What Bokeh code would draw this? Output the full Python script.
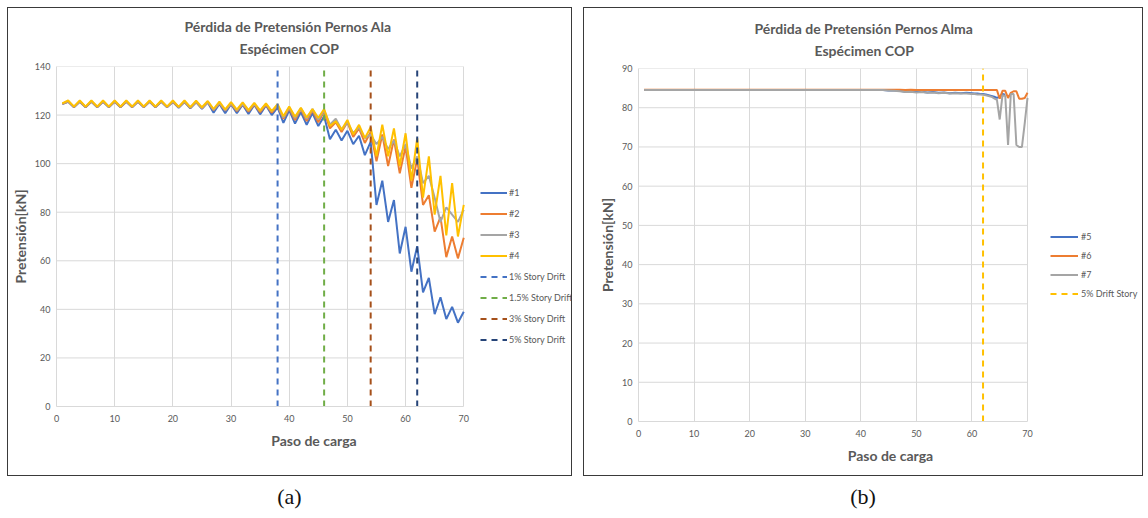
from bokeh.plotting import figure
from bokeh.models import Range1d, Legend, LegendItem, Title, SingleIntervalTicker, Div
from bokeh.layouts import row, column
from bokeh.embed import file_html
from bokeh.resources import INLINE

# ---------------- data: (a) Pernos Ala ----------------
steps_ala = list(range(1, 71))
ala_1 = [124.5, 125.5, 123.2, 125.5, 123.2, 125.5, 123.2, 125.5, 123.2, 125.5,
         123.2, 125.5, 123.2, 125.5, 123.2, 125.5, 123.2, 125.5, 123.2, 125.4,
         123.0, 125.4, 122.8, 125.3, 122.6, 125.2, 121.0, 124.6, 120.8, 124.5,
         120.8, 124.3, 120.5, 124.2, 120.3, 124.0, 120.0, 123.2, 116.8, 122.0,
         116.5, 121.2, 116.0, 120.8, 115.5, 119.5, 110.0, 114.0, 109.5, 113.5,
         108.0, 111.5, 103.5, 109.0, 83.0, 93.0, 76.0, 85.0, 63.0, 74.0,
         55.5, 66.0, 47.0, 53.0, 38.0, 45.0, 36.0, 41.0, 34.5, 39.0]
ala_2 = [124.6, 125.6, 123.3, 125.6, 123.3, 125.6, 123.3, 125.6, 123.3, 125.6,
         123.3, 125.6, 123.3, 125.6, 123.3, 125.6, 123.3, 125.6, 123.3, 125.5,
         123.2, 125.5, 123.0, 125.4, 122.8, 125.3, 122.0, 124.8, 121.8, 124.6,
         121.6, 124.5, 121.4, 124.4, 121.2, 124.2, 121.0, 123.8, 118.5, 122.8,
         118.0, 122.5, 117.5, 122.0, 117.0, 121.5, 114.5, 117.0, 113.0, 117.0,
         111.0, 114.5, 108.5, 113.0, 101.0, 112.0, 99.0, 110.0, 96.0, 107.0,
         90.0, 102.0, 83.0, 87.0, 72.0, 78.0, 61.5, 70.0, 61.0, 69.5]
ala_3 = [124.7, 125.7, 123.4, 125.7, 123.4, 125.7, 123.4, 125.7, 123.4, 125.7,
         123.4, 125.7, 123.4, 125.7, 123.4, 125.7, 123.4, 125.7, 123.4, 125.6,
         123.3, 125.6, 123.1, 125.5, 122.9, 125.4, 122.2, 125.0, 122.0, 124.8,
         121.9, 124.7, 121.8, 124.6, 121.7, 124.5, 121.5, 124.0, 119.0, 123.2,
         118.8, 122.8, 118.5, 122.5, 118.2, 122.0, 116.0, 118.5, 114.0, 117.0,
         112.5, 115.0, 110.5, 112.0, 108.0, 111.0, 106.0, 109.5, 103.0, 108.0,
         98.0, 103.0, 92.0, 95.0, 86.0, 76.0, 82.0, 79.0, 76.0, 81.0]
ala_4 = [124.8, 126.0, 123.5, 126.0, 123.5, 126.0, 123.5, 126.0, 123.5, 126.0,
         123.5, 126.0, 123.5, 126.0, 123.5, 126.0, 123.5, 126.0, 123.5, 126.0,
         123.4, 126.0, 123.3, 125.9, 123.2, 125.8, 122.5, 125.5, 122.3, 125.3,
         122.2, 125.2, 122.0, 125.0, 121.8, 124.8, 121.6, 124.5, 119.5, 123.5,
         119.3, 123.0, 119.0, 122.5, 118.8, 122.5, 115.5, 117.5, 114.0, 118.0,
         112.0, 116.0, 110.5, 115.0, 103.0, 116.0, 103.0, 114.5, 99.0, 112.5,
         93.0, 110.5, 86.0, 103.0, 79.0, 95.0, 70.5, 92.0, 70.0, 83.0]
ala_labels = ["#1", "#2", "#3", "#4"]
drift_steps = [38, 46, 54, 62]
drift_labels = ["1% Story Drift", "1.5% Story Drift", "3% Story Drift", "5% Story Drift"]
ala_ylim = [0, 140]
ala_yticks = [0, 20, 40, 60, 80, 100, 120, 140]

# ---------------- data: (b) Pernos Alma ----------------
steps_alma = [1, 2, 3, 4, 5, 6, 7, 8, 9, 10, 11, 12, 13, 14, 15, 16, 17, 18, 19, 20,
              21, 22, 23, 24, 25, 26, 27, 28, 29, 30, 31, 32, 33, 34, 35, 36, 37, 38, 39, 40,
              41, 42, 43, 44, 45, 46, 47, 48, 49, 50, 51, 52, 53, 54, 55, 56, 57, 58, 59, 60,
              60.5, 61, 61.5, 62, 62.5, 63, 63.5, 64, 64.5, 65,
              65.5, 66, 66.5, 67, 67.5, 68, 68.5, 69, 69.5, 70]
alma_5 = [84.5, 84.5, 84.5, 84.5, 84.5, 84.5, 84.5, 84.5, 84.5, 84.5,
          84.5, 84.5, 84.5, 84.5, 84.5, 84.5, 84.5, 84.5, 84.5, 84.5,
          84.5, 84.5, 84.5, 84.5, 84.5, 84.5, 84.5, 84.5, 84.5, 84.5,
          84.5, 84.5, 84.5, 84.5, 84.5, 84.5, 84.5, 84.5, 84.5, 84.5,
          84.5, 84.5, 84.5, 84.5, 84.4, 84.4, 84.3, 84.1, 84.2, 84.0,
          84.1, 83.9, 84.0, 83.8, 83.9, 83.7, 83.8, 83.7, 83.8, 83.7,
          83.6, 83.6, 83.5, 83.5, 83.4, 83.2, 83.0, 82.8, 82.5, 82.8,
          83.5, 83.3]
alma_6 = [84.6, 84.6, 84.6, 84.6, 84.6, 84.6, 84.6, 84.6, 84.6, 84.6,
          84.6, 84.6, 84.6, 84.6, 84.6, 84.6, 84.6, 84.6, 84.6, 84.6,
          84.6, 84.6, 84.6, 84.6, 84.6, 84.6, 84.6, 84.6, 84.6, 84.6,
          84.6, 84.6, 84.6, 84.6, 84.6, 84.6, 84.6, 84.6, 84.6, 84.6,
          84.6, 84.6, 84.6, 84.6, 84.6, 84.6, 84.6, 84.5, 84.6, 84.5,
          84.5, 84.5, 84.5, 84.5, 84.5, 84.5, 84.5, 84.5, 84.5, 84.5,
          84.5, 84.5, 84.5, 84.5, 84.5, 84.5, 84.5, 84.5, 84.5, 82.3,
          84.3, 84.3, 82.5, 83.8, 84.2, 84.2, 82.3, 82.3, 82.5, 83.8]
alma_7 = [84.5, 84.5, 84.5, 84.5, 84.5, 84.5, 84.5, 84.5, 84.5, 84.5,
          84.5, 84.5, 84.5, 84.5, 84.5, 84.5, 84.5, 84.5, 84.5, 84.5,
          84.5, 84.5, 84.5, 84.5, 84.5, 84.5, 84.5, 84.5, 84.5, 84.5,
          84.5, 84.5, 84.5, 84.5, 84.5, 84.5, 84.5, 84.5, 84.5, 84.5,
          84.5, 84.5, 84.5, 84.5, 84.4, 84.3, 84.2, 84.0, 84.1, 83.9,
          84.0, 83.8, 83.9, 83.7, 83.8, 83.6, 83.7, 83.6, 83.6, 83.5,
          83.5, 83.4, 83.4, 83.3, 83.2, 83.0, 82.8, 82.4, 82.0, 77.0,
          83.2, 83.0, 70.5, 83.5, 83.5, 70.5, 70.0, 70.0, 76.0, 82.5]
alma_labels = ["#5", "#6", "#7"]
alma_drift = [62]
alma_drift_labels = ["5% Drift Story"]
alma_ylim = [0, 90]
alma_yticks = [0, 10, 20, 30, 40, 50, 60, 70, 80, 90]
x_lim = [0, 70]

# ---------------- styling ----------------
FONT = "Lato"
TXT = "#595959"
GRID = "#d9d9d9"
SERIES_COLORS = ["#4472C4", "#ED7D31", "#A5A5A5", "#FFC000"]
DRIFT_COLORS = ["#4472C4", "#70AD47", "#A5501A", "#264478"]


def base_figure(width, height, ylim, yticks, mb, plot_px, title1, title2, toffs):
    # the frame extends to the right over the legend area; the data axis only spans x_lim
    frame_px = width - mb[0] - mb[1]
    x_end = x_lim[0] + (x_lim[1] - x_lim[0]) * frame_px / plot_px
    p = figure(width=width, height=height, x_range=Range1d(x_lim[0], x_end),
               y_range=Range1d(*ylim), output_backend="svg", toolbar_location=None,
               min_border_left=mb[0], min_border_right=mb[1],
               min_border_top=mb[2], min_border_bottom=mb[3])
    p.outline_line_color = None
    p.background_fill_color = "white"
    p.border_fill_color = "white"
    xt = SingleIntervalTicker(interval=10)
    yt = SingleIntervalTicker(interval=yticks[1] - yticks[0])
    p.xaxis.ticker = xt
    p.yaxis.ticker = yt
    p.xgrid.ticker = xt
    p.xgrid.bounds = tuple(x_lim)
    p.xaxis.bounds = tuple(x_lim)
    p.xgrid.grid_line_color = GRID
    p.ygrid.visible = False
    n = len(yticks)
    p.segment(x0=[x_lim[0]] * n, x1=[x_lim[1]] * n, y0=yticks, y1=yticks,
              line_color=GRID, line_width=1)
    for ax in (p.xaxis, p.yaxis):
        ax.major_tick_line_color = None
        ax.minor_tick_line_color = None
        ax.major_tick_out = 0
        ax.major_tick_in = 0
        ax.minor_tick_out = 0
        ax.major_label_text_font = FONT
        ax.major_label_text_font_size = "9px"
        ax.major_label_text_color = TXT
        ax.axis_label_text_font = FONT
        ax.axis_label_text_font_size = "14px"
        ax.axis_label_text_font_style = "bold"
        ax.axis_label_text_color = TXT
        ax.axis_line_color = GRID
    p.xaxis.axis_label = "Paso de carga"
    p.yaxis.axis_label = "Pretensión[kN]"
    p.xaxis.major_label_standoff = 8
    p.xaxis.axis_label_standoff = 7
    p.yaxis.major_label_standoff = 6
    p.yaxis.axis_label_standoff = 3
    p.add_layout(Title(text=title2, align="left", offset=toffs[1], text_font=FONT,
                       text_font_size="14px", text_font_style="bold", text_color=TXT,
                       standoff=20), "above")
    p.add_layout(Title(text=title1, align="left", offset=toffs[0], text_font=FONT,
                       text_font_size="14px", text_font_style="bold", text_color=TXT,
                       standoff=-15), "above")
    return p


def boxed(p):
    return column(p, styles={"border": "1px solid #3a3a3a"})


def caption(text, width):
    html = ('<div style="width:%dpx;text-align:center;font-family:\'Liberation Serif\';'
            'font-size:22px;color:#111;padding-top:0px;">%s</div>') % (width - 10, text)
    return Div(text=html, width=width, height=30)


# ---------------- (a) ----------------
pa = base_figure(563, 467, ala_ylim, ala_yticks, (42, 0, 58, 69), 412,
                 "Pérdida de Pretensión Pernos Ala", "Espécimen COP", (128, 183))
items_a = []
for ys, lab, col in zip([ala_1, ala_2, ala_3, ala_4], ala_labels, SERIES_COLORS):
    r = pa.line(steps_ala, ys, line_color=col, line_width=2)
    items_a.append(LegendItem(label=lab, renderers=[r]))
for d, lab, col in zip(drift_steps, drift_labels, DRIFT_COLORS):
    r = pa.line([d, d], ala_ylim, line_color=col, line_width=2, line_dash="6 5")
    items_a.append(LegendItem(label=lab, renderers=[r]))
leg_a = Legend(items=items_a, location=(424, 58), glyph_width=27, glyph_height=17, spacing=4,
               label_standoff=2, padding=0, margin=0, border_line_color=None,
               background_fill_alpha=0, label_text_font=FONT, label_text_font_size="9px",
               label_text_color=TXT)
pa.add_layout(leg_a, "center")

# ---------------- (b) ----------------
pb = base_figure(558, 467, alma_ylim, alma_yticks, (54, 0, 60, 54), 389,
                 "Pérdida de Pretensión Pernos Alma", "Espécimen COP", (116, 176))
items_b = []
for ys, lab, col in zip([alma_5, alma_6, alma_7], alma_labels, SERIES_COLORS[:3]):
    r = pb.line(steps_alma[:len(ys)], ys, line_color=col, line_width=2)
    items_b.append(LegendItem(label=lab, renderers=[r]))
for d, lab in zip(alma_drift, alma_drift_labels):
    r = pb.line([d, d], alma_ylim, line_color="#FFC000", line_width=2, line_dash="6 5")
    items_b.append(LegendItem(label=lab, renderers=[r]))
leg_b = Legend(items=items_b, location=(412, 120), glyph_width=28, glyph_height=15, spacing=4,
               label_standoff=3, padding=0, margin=0, border_line_color=None,
               background_fill_alpha=0, label_text_font=FONT, label_text_font_size="9px",
               label_text_color=TXT)
pb.add_layout(leg_b, "center")

layout = row(column(boxed(pa), caption("(a)", 565)),
             column(boxed(pb), caption("(b)", 560)), spacing=1,
             styles={"margin-left": "7px", "margin-top": "7px"})

open("out.html", "w").write(file_html(layout, INLINE))
